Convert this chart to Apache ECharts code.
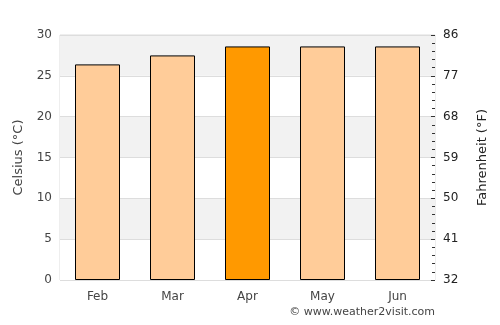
<!DOCTYPE html>
<html>
<head>
<meta charset="utf-8">
<script src="https://cdn.jsdelivr.net/npm/echarts@6/dist/echarts.min.js"></script>
<style>
  html, body { margin: 0; padding: 0; background: #fff; }
  #chart { width: 500px; height: 325px; }
</style>
</head>
<body>
<div id="chart"></div>
<script>
const months = ['Feb', 'Mar', 'Apr', 'May', 'Jun'];
const tempC = [26.4, 27.5, 28.6, 28.6, 28.6];
const highlight = 'Apr';

let chart = echarts.init(document.getElementById('chart'));
let option = {
  animation: false,
  textStyle: {fontFamily: 'DejaVu Sans'},
  grid: {left: 60, right: 65, top: 35, bottom: 45, show: true, borderColor: '#dddddd', borderWidth: 1},
  xAxis: {
    type: 'category',
    data: months,
    axisLine: {show: false},
    axisTick: {show: false},
    axisLabel: {color: '#444', fontSize: 12, margin: 11}
  },
  yAxis: [
    {
      type: 'value',
      min: 0, max: 30, interval: 5,
      name: 'Celsius (°C)',
      nameLocation: 'middle',
      nameGap: 35,
      nameTextStyle: {color: '#444', fontSize: 13},
      axisLine: {show: false},
      axisTick: {show: false},
      axisLabel: {color: '#444', fontSize: 12, margin: 8},
      splitLine: {lineStyle: {color: '#dddddd'}},
      splitArea: {show: true, areaStyle: {color: ['#ffffff', '#f2f2f2']}}
    },
    {
      type: 'value',
      min: 32, max: 86, interval: 9,
      position: 'right',
      name: 'Fahrenheit (°F)',
      nameLocation: 'middle',
      nameGap: 41,
      nameRotate: 90,
      nameTextStyle: {color: '#222', fontSize: 13},
      axisLine: {show: false},
      axisTick: {show: true, inside: true, length: 4, lineStyle: {color: '#333'}},
      minorTick: {show: true, splitNumber: 5, length: 3, lineStyle: {color: '#333'}},
      axisLabel: {color: '#222', fontSize: 12, margin: 8},
      splitLine: {show: false}
    }
  ],
  series: [{
    type: 'bar',
    barWidth: '60%',
    data: tempC.map((v, i) => ({
      value: v,
      itemStyle: {color: months[i] === highlight ? '#ff9900' : '#ffcc99'}
    })),
    itemStyle: {borderColor: '#000', borderWidth: 1}
  }],
  graphic: [{
    type: 'text',
    right: 65,
    top: 307,
    style: {text: '© www.weather2visit.com', fill: '#444', fontSize: 11, fontFamily: 'DejaVu Sans'}
  }]
};
chart.setOption(option);
</script>
</body>
</html>
